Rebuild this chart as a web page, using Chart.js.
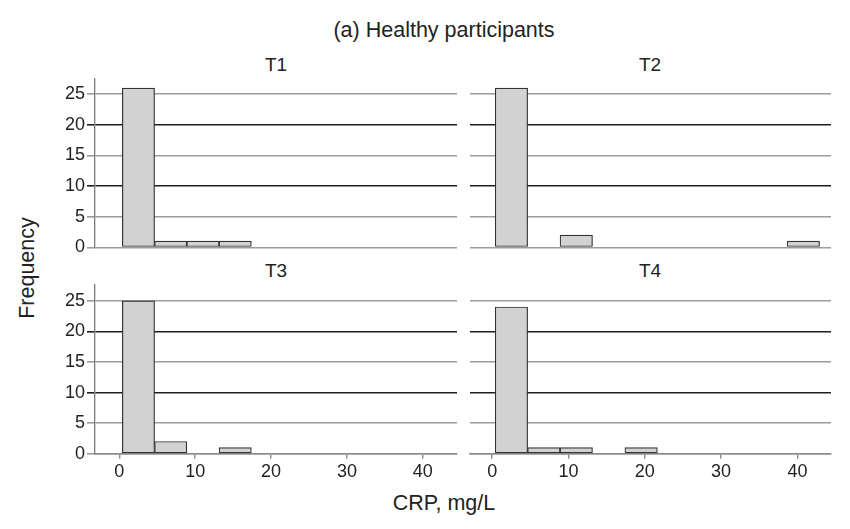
<!DOCTYPE html>
<html lang="en">
<head>
    <meta charset="UTF-8">
    <title>CRP histograms - healthy participants</title>
    <style>
        body {
            margin: 0;
            width: 850px;
            height: 529px;
            background: #fff;
            font-family: "Liberation Sans", Arial, sans-serif;
            color: #222;
            position: relative;
            overflow: hidden;
        }
        .panel { position: absolute; }
        .txt {
            position: absolute;
            white-space: nowrap;
            transform: translate(-50%, -50%);
            line-height: 1;
        }
        .main { font-size: 21.5px; }
        .sub { font-size: 19px; }
        .axis { font-size: 21.5px; }
        .rot { transform: translate(-50%, -50%) rotate(-90deg); }
    </style>
</head>
<body>
    <div class="txt main" style="left:444px; top:31px;">(a) Healthy participants</div>
    <div class="txt sub" style="left:276px; top:64px;">T1</div>
    <div class="txt sub" style="left:650px; top:64px;">T2</div>
    <div class="txt sub" style="left:276px; top:270px;">T3</div>
    <div class="txt sub" style="left:650px; top:270px;">T4</div>
    <div class="txt axis rot" style="left:28px; top:268px;">Frequency</div>
    <div class="txt axis" style="left:444px; top:504px;">CRP, mg/L</div>

    <div class="panel" style="left:40px; top:74px; width:420px; height:178px;"><canvas id="t1"></canvas></div>
    <div class="panel" style="left:465px; top:74px; width:370px; height:178px;"><canvas id="t2"></canvas></div>
    <div class="panel" style="left:40px; top:280px; width:420px; height:214px;"><canvas id="t3"></canvas></div>
    <div class="panel" style="left:465px; top:280px; width:370px; height:214px;"><canvas id="t4"></canvas></div>

    <script src="https://cdn.jsdelivr.net/npm/chart.js"></script>
    <script>
        // histogram bins, CRP mg/L
        const binEdges = [0.4, 4.65, 8.9, 13.15, 17.4, 21.65, 25.9, 30.15, 34.4, 38.65, 42.9];
        const t1Counts = [26, 1, 1, 1, 0, 0, 0, 0, 0, 0];
        const t2Counts = [26, 0, 2, 0, 0, 0, 0, 0, 0, 1];
        const t3Counts = [25, 2, 0, 1, 0, 0, 0, 0, 0, 0];
        const t4Counts = [24, 1, 1, 0, 1, 0, 0, 0, 0, 0];
        const yTicks = [0, 5, 10, 15, 20, 25];
        const xTicks = [0, 10, 20, 30, 40];

        const font = { family: '"Liberation Sans", Arial, sans-serif', size: 18 };
        Chart.defaults.color = '#222';

        function gridColor(ctx) {
            const v = ctx.tick ? ctx.tick.value : null;
            return (v === 10 || v === 20) ? '#1e1e1e' : '#9c9c9c';
        }

        // fixed axis sizes so the plot areas line up like the original
        function fixSize(s, w, h) {
            if (w !== null) s.width = w;
            if (h !== null) s.height = h;
            s.paddingTop = 0;
            s.paddingBottom = 0;
            s.paddingLeft = 0;
            s.paddingRight = 0;
        }

        function makeChart(id, counts, isLeft, isBottom) {
            const pts = counts.map((c, i) => ({ x: (binEdges[i] + binEdges[i + 1]) / 2, y: c }));
            const xmin = isLeft ? -3.2 : -2.9;
            const xmax = isLeft ? 44.5 : 44.4;
            return new Chart(document.getElementById(id), {
                type: 'bar',
                data: {
                    datasets: [{
                        data: pts,
                        backgroundColor: '#d2d2d2',
                        borderColor: '#333',
                        borderWidth: 1.2,
                        borderSkipped: false,
                        barPercentage: 1,
                        categoryPercentage: 1
                    }]
                },
                options: {
                    responsive: true,
                    maintainAspectRatio: false,
                    animation: false,
                    layout: {
                        padding: {
                            left: isLeft ? 0 : 5,
                            right: isLeft ? 3 : 4,
                            top: isBottom ? 5 : 4.3,
                            bottom: isBottom ? 0 : 4.7
                        }
                    },
                    plugins: { legend: { display: false }, tooltip: { enabled: false } },
                    scales: {
                        x: {
                            type: 'linear',
                            display: isBottom,
                            min: xmin,
                            max: xmax,
                            offset: false,
                            afterBuildTicks: s => { s.ticks = xTicks.map(v => ({ value: v })); },
                            afterFit: s => fixSize(s, null, isBottom ? 40.3 : 0),
                            ticks: { font: font, padding: 3, maxRotation: 0, autoSkip: false },
                            grid: {
                                offset: false,
                                drawOnChartArea: false,
                                drawTicks: true,
                                tickLength: 5,
                                tickColor: '#8a8a8a',
                                lineWidth: 1.4
                            },
                            border: { display: true, color: '#8a8a8a', width: 1.5 }
                        },
                        y: {
                            min: 0,
                            max: 27.6,
                            afterBuildTicks: s => { s.ticks = yTicks.map(v => ({ value: v })); },
                            afterFit: s => fixSize(s, isLeft ? 55 : 0, null),
                            ticks: { display: isLeft, font: font, padding: 2 },
                            grid: {
                                color: gridColor,
                                lineWidth: 1.6,
                                drawTicks: isLeft,
                                tickLength: 8
                            },
                            border: { display: isLeft, color: '#7a7a7a', width: 1.3 }
                        }
                    }
                }
            });
        }

        makeChart('t1', t1Counts, true, false);
        makeChart('t2', t2Counts, false, false);
        makeChart('t3', t3Counts, true, true);
        makeChart('t4', t4Counts, false, true);
    </script>
</body>
</html>
